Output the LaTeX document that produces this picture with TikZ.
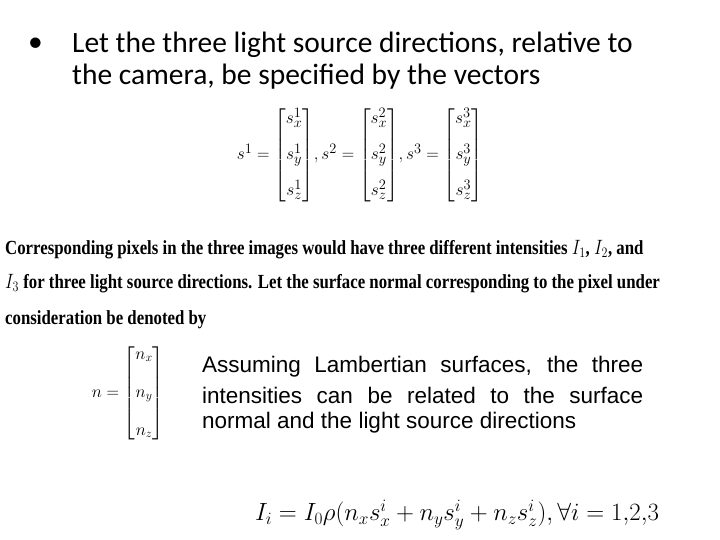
\documentclass[tikz,border=0pt]{standalone}
\usepackage{amsmath}
\usepackage{fontspec}
\setmainfont{Liberation Serif}
\newfontfamily\calfnt{Carlito}
\newfontfamily\arifnt{Liberation Sans}
\begin{document}
\begin{tikzpicture}[x=1pt,y=-1pt,
  bul/.style={anchor=west,inner sep=0pt,font=\calfnt\fontsize{29.5}{34}\selectfont},
  par/.style={anchor=west,inner sep=0pt,font=\bfseries\fontsize{20}{22}\selectfont},
  ari/.style={anchor=west,inner sep=0pt,font=\arifnt\fontsize{22.5}{24}\selectfont}]
\useasboundingbox (0,0) rectangle (720,540);
\node[bul] (b0) at (28,45) {\textbullet};
\node[bul] (b1) at (72,45) {Let the three light source directions, relative to};
\node[bul] (b2) at (72,77) {the camera, be specified by the vectors};
\node (m) at (360,155) {\fontsize{19}{22}\selectfont$s^1=\begin{bmatrix}s_x^1\\[14pt] s_y^1\\[14pt] s_z^1\end{bmatrix}\!,s^2=\begin{bmatrix}s_x^2\\[14pt] s_y^2\\[14pt] s_z^2\end{bmatrix}\!,s^3=\begin{bmatrix}s_x^3\\[14pt] s_y^3\\[14pt] s_z^3\end{bmatrix}$};
\node[par] (p1) at (5,250) {\scalebox{0.84}[1]{Corresponding pixels in the three images would have three different intensities $I_1$, $I_2$, and}};
\node[par] (p2) at (5,284) {\scalebox{0.84}[1]{$I_3$ for three light source directions. Let the surface normal corresponding to the pixel under}};
\node[par] (p3) at (5,320) {\scalebox{0.84}[1]{consideration be denoted by}};
\node (n) at (128,393) {\fontsize{18}{20}\selectfont$n=\begin{bmatrix}n_x\\[18pt] n_y\\[18pt] n_z\end{bmatrix}$};
\node[ari] (t1) at (202,367) {\makebox[441pt][s]{Assuming Lambertian surfaces, the three}};
\node[ari] (t2) at (202,395) {\makebox[441pt][s]{intensities can be related to the surface}};
\node[ari] (t3) at (202,423) {normal and the light source directions};
\node (e) at (457,515) {\fontsize{24}{28}\selectfont$I_i=I_0\rho(n_xs_x^i+n_ys_y^i+n_zs_z^i),\forall i=1{,}2{,}3$};
\end{tikzpicture}
\end{document}
